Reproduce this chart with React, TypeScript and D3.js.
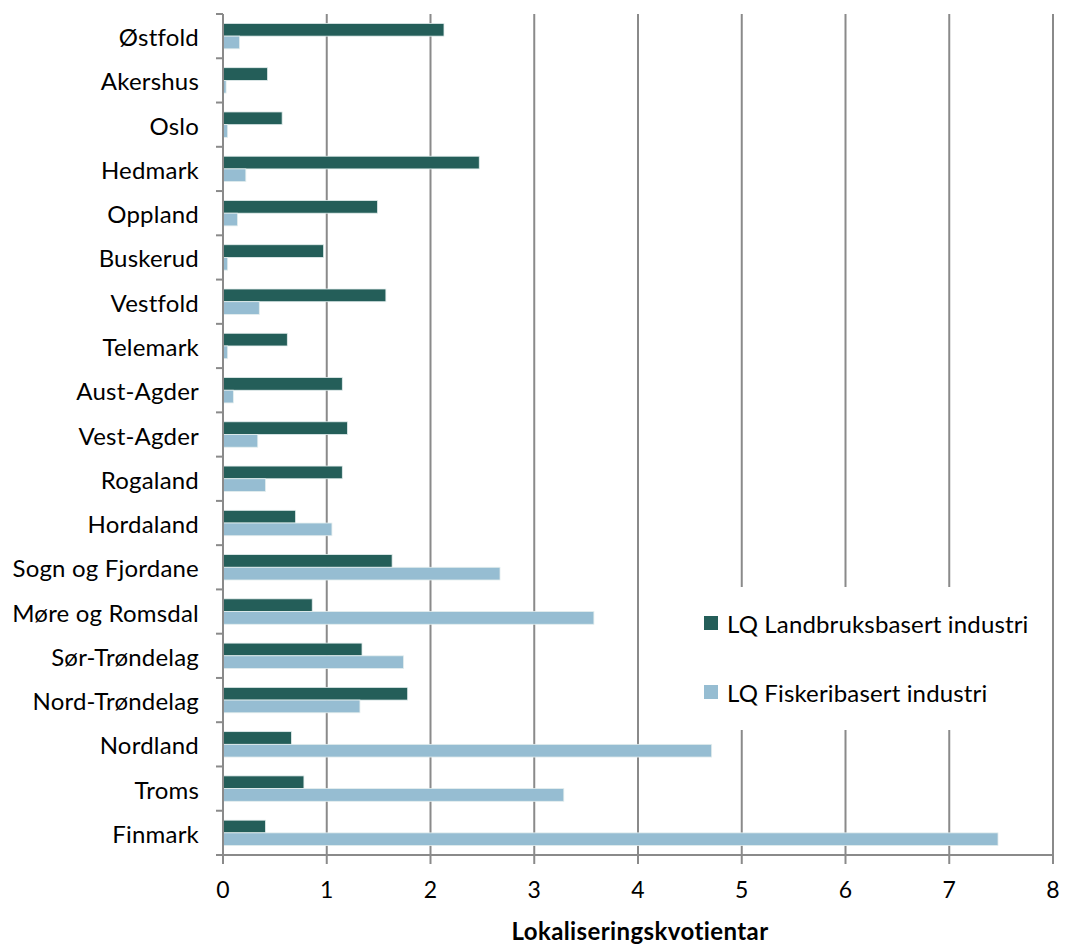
import React from "react";
import * as d3 from "d3";

const categories = [
  "Østfold", "Akershus", "Oslo", "Hedmark", "Oppland", "Buskerud", "Vestfold",
  "Telemark", "Aust-Agder", "Vest-Agder", "Rogaland", "Hordaland",
  "Sogn og Fjordane", "Møre og Romsdal", "Sør-Trøndelag", "Nord-Trøndelag",
  "Nordland", "Troms", "Finmark",
];
const seriesNames = ["LQ Landbruksbasert industri", "LQ Fiskeribasert industri"];
const landbruk = [2.13, 0.43, 0.57, 2.47, 1.49, 0.97, 1.57, 0.62, 1.15, 1.2, 1.15, 0.7, 1.63, 0.86, 1.34, 1.78, 0.66, 0.78, 0.41];
const fiskeri = [0.16, 0.03, 0.045, 0.22, 0.14, 0.045, 0.35, 0.045, 0.1, 0.335, 0.41, 1.05, 2.67, 3.575, 1.74, 1.32, 4.71, 3.285, 7.47];
const xTicks = [0, 1, 2, 3, 4, 5, 6, 7, 8];
const xTitle = "Lokaliseringskvotientar";
const colors = ["#245e59", "#96bdd2"];

const W = 1065, H = 944;
const M = { left: 223, right: 1053, top: 14, bottom: 855 };
const FONT = "Lato, 'Open Sans', sans-serif";
const AX = "#8a8a8a";

export default function App() {
  const x = d3.scaleLinear().domain([0, 8]).range([M.left, M.right]);
  const y = d3.scaleBand<string>().domain(categories).range([M.top, M.bottom]).paddingInner(0).paddingOuter(0);
  const bw = y.bandwidth();
  const pad = bw * 0.213;
  const sub = d3.scaleBand<string>().domain(seriesNames).range([pad, bw - pad]).padding(0);
  const values = [landbruk, fiskeri];

  const bandEdges = categories.map((c) => y(c)!).concat([M.bottom]);

  return (
    <svg width={W} height={H} style={{ display: "block", position: "absolute", left: 0, top: 0, background: "#fff" }}>
      {xTicks.filter((t) => t > 0).map((t) => (
        <line key={"g" + t} x1={x(t)} x2={x(t)} y1={M.top} y2={M.bottom} stroke={AX} strokeWidth={2} />
      ))}
      {seriesNames.map((s, si) =>
        categories.map((c, ci) => (
          <rect
            key={s + c}
            x={x(0)}
            y={y(c)! + sub(s)!}
            width={x(values[si][ci]) - x(0)}
            height={sub.bandwidth()}
            fill={colors[si]}
            stroke="#e4eeee"
            strokeWidth={0.8}
          />
        ))
      )}
      <rect x={690} y={587} width={356} height={143} fill="#fff" />
      {seriesNames.map((s, i) => (
        <g key={"lg" + s} transform={`translate(704, ${616 + i * 69})`}>
          <rect x={0} y={0} width={14} height={14} fill={colors[i]} />
          <text x={23} y={17} fontFamily={FONT} fontSize={24} letterSpacing={0.15} fill="#000">{s}</text>
        </g>
      ))}
      <line x1={x(0)} x2={x(0)} y1={M.top} y2={M.bottom} stroke={AX} strokeWidth={2} />
      <line x1={x(0) - 7} x2={M.right} y1={M.bottom} y2={M.bottom} stroke={AX} strokeWidth={2} />
      {bandEdges.map((e, i) => (
        <line key={"yt" + i} x1={x(0) - 7} x2={x(0)} y1={e} y2={e} stroke={AX} strokeWidth={2} />
      ))}
      {xTicks.map((t) => (
        <line key={"xt" + t} x1={x(t)} x2={x(t)} y1={M.bottom} y2={M.bottom + 9} stroke={AX} strokeWidth={2} />
      ))}
      {categories.map((c) => (
        <text key={"l" + c} x={199} y={y(c)! + bw / 2 + 10} textAnchor="end" fontFamily={FONT} fontSize={24} letterSpacing={0.2} fill="#000">
          {c}
        </text>
      ))}
      {xTicks.map((t) => (
        <text key={"xl" + t} x={x(t)} y={898} textAnchor="middle" fontFamily={FONT} fontSize={23} fill="#000">
          {t}
        </text>
      ))}
      <text x={(M.left + M.right) / 2 + 2} y={940} textAnchor="middle" fontFamily={FONT} fontSize={24} letterSpacing={0.4} fontWeight="bold" fill="#000">
        {xTitle}
      </text>
    </svg>
  );
}
